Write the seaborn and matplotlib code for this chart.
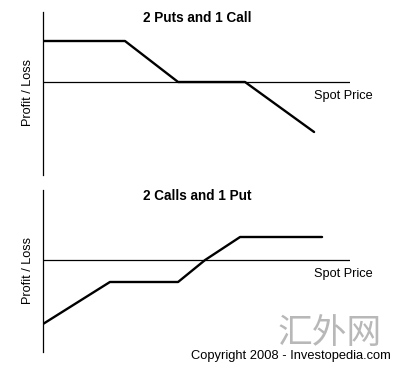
import matplotlib
matplotlib.use("Agg")
import matplotlib.pyplot as plt
import seaborn as sns
import pandas as pd

sns.set_theme(style="white")
plt.rcParams['font.family'] = ['Liberation Sans', 'DejaVu Sans']

# Data (arbitrary units: spot price vs profit/loss)
top_title = "2 Puts and 1 Call"
top_spot = [0, 26.7, 44, 65.8, 88.3]
top_pl = [2.05, 2.05, 0, 0, -2.5]

bot_title = "2 Calls and 1 Put"
bot_spot = [0, 21.8, 44, 52.8, 64.2, 90.9]
bot_pl = [-3.2, -1.1, -1.1, 0, 1.15, 1.15]

x_label = "Spot Price"
y_label = "Profit / Loss"
copyright_text = "Copyright 2008 - Investopedia.com"
watermark = "汇外网"

W, H = 400, 369
fig = plt.figure(figsize=(W / 100, H / 100), dpi=100)
fig.patch.set_facecolor("white")


def px_axes(x0, y0, x1, y1):
    return fig.add_axes([x0 / W, 1 - y1 / H, (x1 - x0) / W, (y1 - y0) / H])


panels = [
    (top_title, top_spot, top_pl, (12, 175), (-4.65, 3.5)),
    (bot_title, bot_spot, bot_pl, (190, 352), (-4.6, 3.5)),
]

for title, xs, ys, (py0, py1), ylim in panels:
    ax = px_axes(43, py0, 350, py1)
    df = pd.DataFrame({"spot": xs, "pl": ys})
    sns.lineplot(data=df, x="spot", y="pl", ax=ax, color="black", lw=1.7,
                 sort=False, estimator=None)
    ax.axhline(0, color="black", lw=0.9)
    ax.set_xlim(0, 100)
    ax.set_ylim(*ylim)
    ax.set_xticks([])
    ax.set_yticks([])
    ax.set_xlabel("")
    ax.set_ylabel("")
    ax.set_facecolor("none")
    for s in ["top", "right", "bottom"]:
        ax.spines[s].set_visible(False)
    ax.spines["left"].set_color("black")
    ax.spines["left"].set_linewidth(0.9)
    fig.text(197 / W, 1 - (py0 + 6.5) / H, title, ha="center", va="center",
             fontsize=9.8, fontweight="bold", color="black")
    fig.text(343 / W, 1 - (py0 + 84) / H, x_label, ha="center", va="center",
             fontsize=9.2, color="black")
    fig.text(28 / W, 1 - (py0 + 81) / H, y_label, ha="center", va="center",
             rotation=90, fontsize=9.2, color="black")

fig.text(330 / W, 1 - 333 / H, watermark, ha="center", va="center",
         fontsize=25, color="#b8b8b8", family=['Noto Sans CJK SC', 'DejaVu Sans'],
         fontweight="light")
fig.text(391 / W, 1 - 355.5 / H, copyright_text, ha="right", va="center",
         fontsize=9.3, color="black")

fig.savefig("out.png", dpi=100, facecolor="white")
